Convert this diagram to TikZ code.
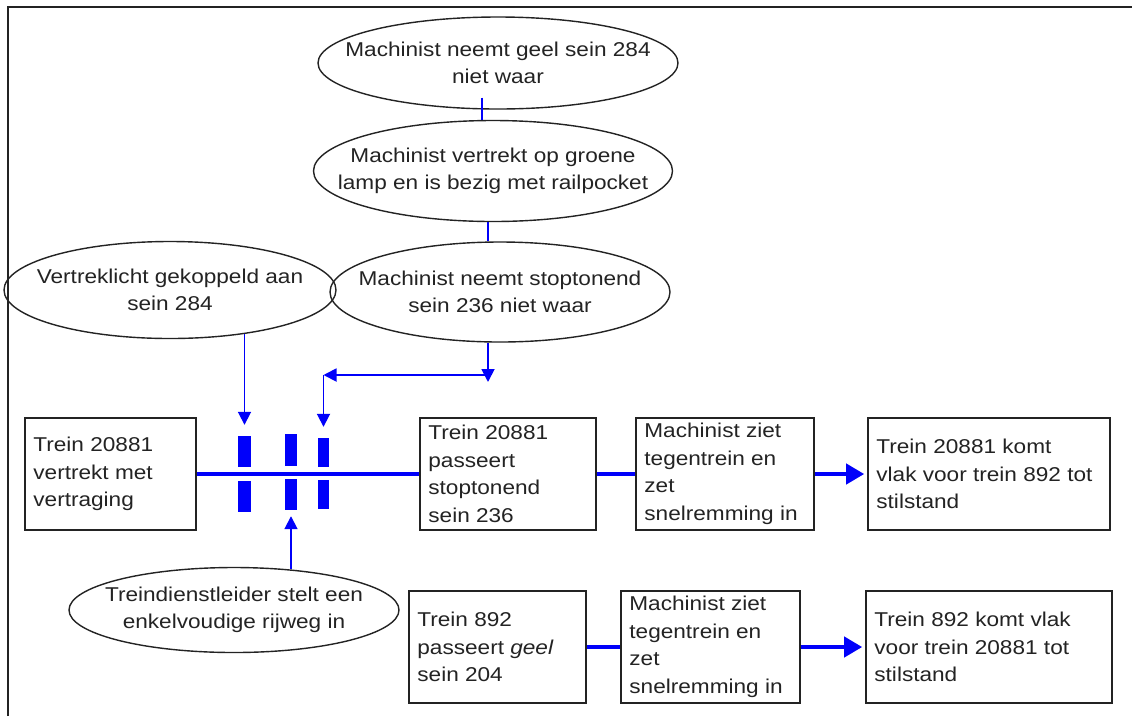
\documentclass[tikz,border=0pt]{standalone}
\usepackage{fontspec}
\setmainfont{Liberation Sans}[FakeStretch=1.13]
\usetikzlibrary{shapes.geometric,arrows.meta}
\definecolor{lblue}{RGB}{0,0,250}
\definecolor{ink}{RGB}{35,35,35}
\begin{document}
\begin{tikzpicture}[x=1pt,y=-1pt,
  font=\fontsize{20}{27.5}\selectfont, text=ink,
  box/.style={draw=ink, line width=1.6pt, minimum width=#1, minimum height=112pt, inner sep=0pt},
  btext/.style={anchor=west, align=left, inner sep=0pt},
  oval/.style={ellipse, draw=ink, line width=1.4pt, inner sep=0pt},
  otext/.style={align=center, inner sep=0pt},
  bar/.style={fill=lblue, inner sep=0pt},
  track/.style={draw=lblue, line width=4pt},
  trackarrow/.style={track, -{Triangle[length=18pt,width=20pt]}, shorten >=3pt},
  conn/.style={draw=lblue, line width=1.8pt},
  connarrow/.style={conn, -{Triangle[length=13pt,width=13pt]}}]
\useasboundingbox (0,0) rectangle (1132,716);
\fill[white] (0,0) rectangle (1132,716);
\draw[line width=2.6pt, ink] (8,716) -- (8,7) -- (1132,7);

% ellipses
\node[oval, minimum width=360pt, minimum height=92pt] (e1) at (498,63) {};
\node[otext] (e1t) at (e1.center) {Machinist neemt geel sein 284\\niet waar};
\node[oval, minimum width=359pt, minimum height=101pt] (e2) at (493,171) {};
\node[otext] (e2t) at (e2.center) {Machinist vertrekt op groene\\lamp en is bezig met railpocket};
\node[oval, minimum width=340pt, minimum height=100pt] (e3) at (500,292) {};
\node[otext] (e3t) at (e3.center) {Machinist neemt stoptonend\\sein 236 niet waar};
\node[oval, minimum width=332pt, minimum height=97pt] (e4) at (170,290) {};
\node[otext] (e4t) at (e4.center) {Vertreklicht gekoppeld aan\\sein 284};
\node[oval, minimum width=330pt, minimum height=85pt] (e5) at (234,610) {};
\node[otext] (e5t) at (e5.center) {Treindienstleider stelt een\\enkelvoudige rijweg in};

% boxes
\node[box=171pt] (b1) at (110.5,474) {};
\node[btext] (b1t) at ([xshift=9pt]b1.west) {Trein 20881\\vertrekt met\\vertraging};
\node[box=176pt] (b2) at (508,474) {};
\node[btext] (b2t) at ([xshift=9pt]b2.west) {Trein 20881\\passeert\\stoptonend\\sein 236};
\node[box=178pt] (b3) at (725,474) {};
\node[btext] (b3t) at ([xshift=9pt]b3.west) {Machinist ziet\\tegentrein en\\zet\\snelremming in};
\node[box=242pt] (b4) at (989,474) {};
\node[btext] (b4t) at ([xshift=9pt]b4.west) {Trein 20881 komt\\vlak voor trein 892 tot\\stilstand};
\node[box=177pt] (b5) at (497.5,647) {};
\node[btext] (b5t) at ([xshift=9pt]b5.west) {Trein 892\\passeert \textit{geel}\\sein 204};
\node[box=179pt] (b6) at (710.5,647) {};
\node[btext] (b6t) at ([xshift=9pt]b6.west) {Machinist ziet\\tegentrein en\\zet\\snelremming in};
\node[box=246pt] (b7) at (989,647) {};
\node[btext] (b7t) at ([xshift=9pt]b7.west) {Trein 892 komt vlak\\voor trein 20881 tot\\stilstand};

% track connections
\draw[track] (b1.east) -- (b2.west);
\draw[track] (b2.east) -- (b3.west);
\draw[trackarrow] (b3.east) -- (b4.west);
\draw[track] (b5.east) -- (b6.west);
\draw[trackarrow] (b6.east) -- (b7.west);

% signal bars
\node[bar, minimum width=13pt, minimum height=31pt] (bar1a) at (244.5,451.5) {};
\node[bar, minimum width=13pt, minimum height=31pt] (bar1b) at (244.5,496.5) {};
\node[bar, minimum width=12pt, minimum height=32pt] (bar2a) at (291,450) {};
\node[bar, minimum width=12pt, minimum height=31pt] (bar2b) at (291,494.5) {};
\node[bar, minimum width=11pt, minimum height=29pt] (bar3a) at (323.5,452.5) {};
\node[bar, minimum width=11pt, minimum height=29pt] (bar3b) at (323.5,494.5) {};

% thin connectors
\draw[conn] ([xshift=-16pt,yshift=12pt]e1.south) -- ([xshift=-11pt]e2.north);
\draw[conn] ([xshift=-5pt]e2.south) -- ([xshift=-12pt]e3.north);
\draw[connarrow, shorten <=-5pt, shorten >=11pt] (bar1a.north |- e4.south) -- (bar1a.north);
\coordinate (j1) at (488,375);
\coordinate (j1tip) at (488,382);
\coordinate (j2) at (323.5,375);
\draw[connarrow] (j1 |- e3.south) -- (j1tip);
\draw[connarrow] (j1) -- (j2);
\draw[connarrow, shorten >=11pt] (j2) -- (bar3a.north);
\draw[connarrow, shorten <=-2pt, shorten >=6pt] (bar2b.south |- e5.north) -- (bar2b.south);
\end{tikzpicture}
\end{document}
